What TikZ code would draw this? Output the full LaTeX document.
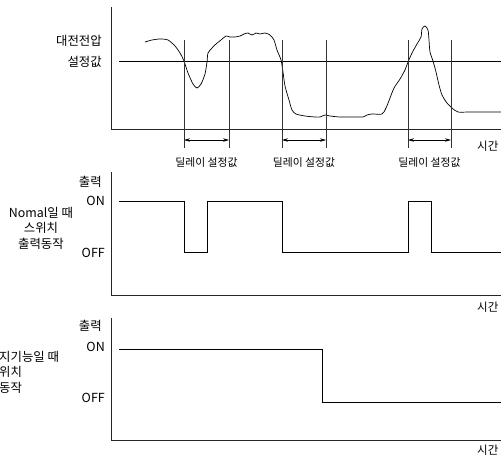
\documentclass[tikz,border=0pt]{standalone}
\usepackage{fontspec}
\setmainfont{Noto Sans CJK KR}
\usetikzlibrary{arrows.meta,positioning}

\begin{document}
\begin{tikzpicture}[
  x=1pt,y=-1pt,
  font=\fontsize{12.4}{15.5}\selectfont,
  axis/.style={line width=0.8pt,draw=black!85},
  level/.style={line width=0.75pt},
  marker/.style={line width=0.7pt,draw=black!80},
  wave/.style={line width=0.7pt,smooth,tension=0.45},
  arr/.style={{Stealth[length=6pt,width=3.5pt]}-{Stealth[length=6pt,width=3.5pt]},line width=0.7pt},
  lbl/.style={inner sep=0pt,anchor=east},
  latin/.style={lbl,font=\fontsize{12.5}{14}\selectfont},
  dly/.style={inner sep=0pt,font=\fontsize{10.8}{12}\selectfont},
  tm/.style={inner sep=0pt,anchor=west,font=\fontsize{11.5}{13}\selectfont}
]
\useasboundingbox (0,0) rectangle (501,458);

% voltage chart
\coordinate (top1) at (111,7);
\coordinate (o1) at (111,129);
\coordinate (end1) at (501,129);
\coordinate (setL) at (119,61);
\coordinate (setR) at (501,61);
\draw[axis] (top1) -- (o1) -- (end1);
\draw[level] (setL) -- (setR);
\node[lbl] (volt) at (102,41) {대전전압};
\node[lbl] (setv) at (102,62) {설정값};
\node[tm] (time1) at (477,146) {시간};

\draw[wave] plot coordinates {(145,42) (152,40) (160,39) (168,40) (175,46) (180,53) (184,61)
  (188,73) (193,84) (197,88) (201,84) (205,74) (207,62) (208,53) (212,48) (216,44) (221,40)
  (226,36) (230,37) (235,37) (240,36) (244,34) (248,33) (252,35) (256,33) (260,34) (265,33)
  (270,35) (274,40) (277,50) (281,60) (283,72) (285,86) (289,100) (292,110) (296,114)
  (305,116) (315,117) (320,117) (325,115) (330,116) (340,117) (355,117) (363,117) (367,115)
  (372,114) (382,114) (386,108) (390,98) (394,88) (400,79) (405,70) (408,62) (412,53)
  (417,44) (421,37) (422,29) (425,26) (428,30) (429,40) (430,52) (433,61) (436,72) (439,85)
  (442,95) (447,103) (452,108) (458,112) (470,112) (501,112)};

% delay markers
\draw[marker] (184,40) -- (184,148);
\draw[marker] (229,40) -- (229,148);
\draw[marker] (282,40) -- (282,148);
\draw[marker] (326,40) -- (326,148);
\draw[marker] (408,40) -- (408,148);
\draw[marker] (451,40) -- (451,148);
\coordinate (d1a) at (184,140);
\coordinate (d1b) at (229,140);
\coordinate (d2a) at (282,140);
\coordinate (d2b) at (326,140);
\coordinate (d3a) at (408,140);
\coordinate (d3b) at (451,140);
\draw[arr] (d1a) -- (d1b);
\draw[arr] (d2a) -- (d2b);
\draw[arr] (d3a) -- (d3b);
\node[dly] (delay1) at (206.5,162) {딜레이 설정값};
\node[dly] (delay2) at (304,162) {딜레이 설정값};
\node[dly] (delay3) at (429.5,162) {딜레이 설정값};

% normal output
\coordinate (top2) at (111,172);
\coordinate (o2) at (111,295);
\coordinate (end2) at (501,295);
\draw[axis] (top2) -- (o2) -- (end2);
\node[lbl] (out2) at (102,182) {출력};
\node[latin] (on2) at (105,201) {ON};
\node[latin] (off2) at (105,253) {OFF};
\node[align=center,inner sep=0pt] (mode2) at (41,228) {Nomal일 때\\스위치\\출력동작};
\node[tm] (time2) at (477,307) {시간};
\draw[level] (119,201) -- (184,201) -- (184,252) -- (207,252) -- (207,201) -- (282,201)
  -- (282,252) -- (408,252) -- (408,201) -- (431,201) -- (431,252) -- (501,252);

% second mode output
\coordinate (top3) at (111,318);
\coordinate (o3) at (111,440);
\coordinate (end3) at (501,440);
\draw[axis] (top3) -- (o3) -- (end3);
\node[lbl] (out3) at (102,326) {출력};
\node[latin] (on3) at (105,347) {ON};
\node[latin] (off3) at (105,398) {OFF};
\node[align=left,inner sep=0pt,anchor=west] (mode3) at (-1,372) {지기능일 때\\위치\\동작};
\node[tm] (time3) at (477,450) {시간};
\draw[level] (119,349) -- (322,349) -- (322,402) -- (501,402);
\end{tikzpicture}
\end{document}
